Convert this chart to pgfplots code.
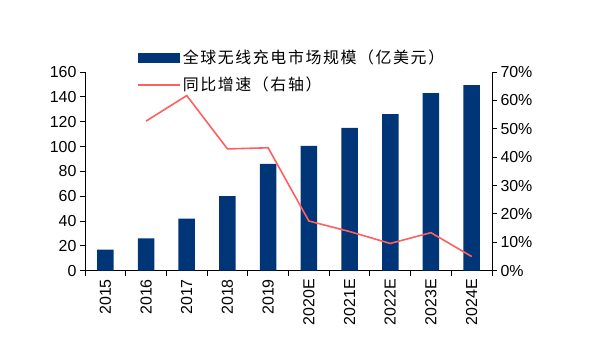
\documentclass[border=0pt]{standalone}
\usepackage{pgfplots}
\pgfplotsset{compat=1.18}
\usepackage{fontspec}
\setmainfont{Liberation Sans}
\newfontfamily\cjk[LetterSpace=10]{Noto Sans CJK SC}
\definecolor{barblue}{RGB}{0,54,120}
\definecolor{linered}{RGB}{255,95,95}
\begin{document}
\begin{tikzpicture}
\useasboundingbox (-85bp,-81.3bp) rectangle (528bp,270.7bp);
\pgfplotsset{
  base/.style={scale only axis, width=407bp, height=198.7bp, xmin=-0.5, xmax=9.5,
    /pgf/number format/assume math mode=true,
    tick label style={font=\fontsize{16}{18}\selectfont, black},
    tick align=outside, major tick length=5bp,
    tick style={black, line width=0.9bp},
    axis line style={black, line width=0.9bp, -}},
}
\begin{axis}[base,
  axis y line*=left, axis x line*=bottom,
  ymin=0, ymax=160, ytick={0,20,...,160},
  xtick={-0.5,0.5,...,9.5}, xticklabels={},
  extra x ticks={0,...,9},
  extra x tick labels={2015,2016,2017,2018,2019,2020E,2021E,2022E,2023E,2024E},
  extra x tick style={tick style={draw=none}, tick label style={rotate=90, anchor=east}},
  legend style={draw=none, fill=none, at={(0.1278,1.121)}, anchor=north west,
    font=\cjk\fontsize{16}{18}\selectfont, row sep=8bp, inner sep=0pt,
    nodes={inner sep=2bp}},
  legend cell align=left,
]
\addplot[ybar, bar width=16.5bp, fill=barblue, draw=none,
  legend image code/.code={\fill[barblue] (0bp,-5bp) rectangle (42bp,5bp);}]
  coordinates {(0,17) (1,26) (2,42) (3,60) (4,86) (5,100.5) (6,115) (7,126) (8,143) (9,149.5)};
\addlegendentry{全球无线充电市场规模（亿美元）}
\addlegendimage{legend image code/.code={\draw[linered, line width=1.6bp] (0bp,0bp) -- (42bp,0bp);}}
\addlegendentry{同比增速（右轴）}
\end{axis}
\begin{axis}[base,
  axis y line*=right, axis x line=none,
  ymin=0, ymax=70, ytick={0,10,...,70},
  yticklabel={\pgfmathprintnumber{\tick}\%},
]
\addplot[linered, line width=1.6bp, mark=none]
  coordinates {(1,52.7) (2,61.7) (3,42.9) (4,43.3) (5,17.5) (6,13.8) (7,9.6) (8,13.4) (9,5.0)};
\end{axis}
\end{tikzpicture}
\end{document}
